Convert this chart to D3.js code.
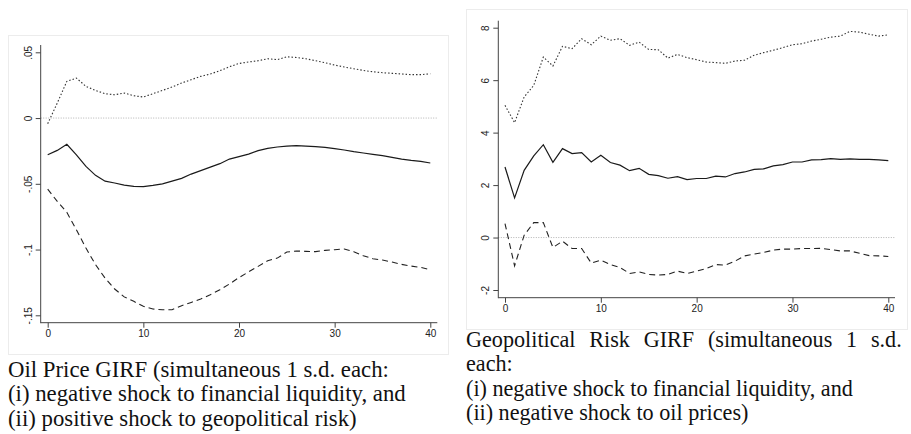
<!DOCTYPE html>
<html><head><meta charset="utf-8">
<script src="https://cdn.jsdelivr.net/npm/d3@7"></script>
<style>body{margin:0;background:#fff}svg{display:block}</style>
</head><body>
<svg id="c" width="911" height="434"></svg>
<script>
const horizons = d3.range(0, 41);
const xTicks = [0, 10, 20, 30, 40];

const oilYTicks = [-0.15, -0.1, -0.05, 0, 0.05];
const oilYTickLabels = ["-.15", "-.1", "-.05", "0", ".05"];
const oilMean = [-0.0279,-0.0246,-0.0200,-0.0280,-0.0368,-0.0436,-0.0480,-0.0494,-0.0510,-0.0520,-0.0522,-0.0512,-0.0500,-0.0480,-0.0459,-0.0426,-0.0400,-0.0373,-0.0347,-0.0312,-0.0293,-0.0274,-0.0248,-0.0230,-0.0220,-0.0213,-0.0210,-0.0213,-0.0218,-0.0223,-0.0233,-0.0243,-0.0256,-0.0266,-0.0276,-0.0286,-0.0299,-0.0312,-0.0322,-0.0330,-0.0342];
const oilUpper = [-0.0043,0.0114,0.0279,0.0304,0.0241,0.0210,0.0185,0.0177,0.0190,0.0170,0.0160,0.0185,0.0210,0.0236,0.0266,0.0292,0.0317,0.0335,0.0360,0.0390,0.0415,0.0426,0.0436,0.0451,0.0444,0.0466,0.0461,0.0451,0.0436,0.0421,0.0403,0.0388,0.0375,0.0362,0.0352,0.0345,0.0340,0.0335,0.0330,0.0330,0.0337];
const oilLower = [-0.0540,-0.0634,-0.0717,-0.0850,-0.0989,-0.1115,-0.1217,-0.1300,-0.1360,-0.1394,-0.1432,-0.1452,-0.1458,-0.1458,-0.1427,-0.1402,-0.1376,-0.1343,-0.1305,-0.1262,-0.1213,-0.1170,-0.1128,-0.1085,-0.1065,-0.1019,-0.1011,-0.1014,-0.1016,-0.1006,-0.1001,-0.0996,-0.1016,-0.1047,-0.1070,-0.1080,-0.1095,-0.1113,-0.1126,-0.1136,-0.1153];

const gprYTicks = [-2, 0, 2, 4, 6, 8];
const gprYTickLabels = ["-2", "0", "2", "4", "6", "8"];
const gprMean = [2.69,1.51,2.56,3.11,3.54,2.87,3.39,3.20,3.24,2.88,3.14,2.86,2.76,2.55,2.64,2.41,2.36,2.26,2.32,2.21,2.25,2.25,2.34,2.31,2.44,2.50,2.60,2.62,2.73,2.78,2.88,2.88,2.96,2.97,3.01,2.98,3.00,2.98,2.98,2.96,2.93];
const gprUpper = [5.04,4.38,5.36,5.80,6.88,6.54,7.29,7.20,7.58,7.35,7.68,7.52,7.58,7.33,7.45,7.17,7.16,6.84,6.98,6.86,6.78,6.69,6.67,6.64,6.73,6.76,6.95,7.05,7.14,7.24,7.35,7.39,7.49,7.56,7.64,7.68,7.86,7.83,7.75,7.68,7.73];
const gprLower = [0.53,-1.08,0.09,0.57,0.57,-0.38,-0.14,-0.42,-0.42,-0.97,-0.86,-1.03,-1.14,-1.37,-1.31,-1.41,-1.43,-1.41,-1.28,-1.37,-1.28,-1.18,-1.03,-1.05,-0.90,-0.70,-0.63,-0.57,-0.48,-0.44,-0.44,-0.42,-0.42,-0.41,-0.46,-0.51,-0.51,-0.60,-0.69,-0.70,-0.72];

const oilCaption = ["Oil Price GIRF (simultaneous 1 s.d. each:", "(i) negative shock to financial liquidity, and", "(ii) positive shock to geopolitical risk)"];
const gprCaption = ["Geopolitical Risk GIRF (simultaneous 1 s.d.", "each:", "(i) negative shock to financial liquidity, and", "(ii) negative shock to oil prices)"];

const svg = d3.select("#c");
const serif = "Liberation Serif, 'Times New Roman', serif";

function panel(cfg) {
  const g = svg.append("g");
  g.append("rect").attr("x", cfg.frame[0]+0.5).attr("y", cfg.frame[1]+0.5)
    .attr("width", cfg.frame[2]-cfg.frame[0]).attr("height", cfg.frame[3]-cfg.frame[1])
    .attr("fill", "#fff").attr("stroke", "#ececec").attr("stroke-width", 1);
  const x = d3.scaleLinear().domain([0, 40]).range(cfg.xr);
  const y = d3.scaleLinear().domain(cfg.yd).range(cfg.yr);
  const [pl, pt, pr, pb] = cfg.plot;
  g.append("line").attr("x1", pl).attr("x2", pr).attr("y1", y(0)).attr("y2", y(0))
    .attr("stroke", "#aaa").attr("stroke-width", 0.9).attr("stroke-dasharray", "1,1.5");
  const ya = g.append("g").attr("transform", `translate(${pl},0)`)
    .call(d3.axisLeft(y).tickValues(cfg.yTicks).tickFormat((d, i) => cfg.yLabels[i]).tickSize(5).tickPadding(4));
  ya.select(".domain").remove();
  ya.selectAll(".tick line").attr("stroke", "#444");
  ya.selectAll(".tick text").attr("transform", "rotate(-90)")
    .attr("x", 0).attr("y", -9).attr("dy", 0).attr("text-anchor", "middle")
    .attr("font-family", "Liberation Sans, Arial, sans-serif").attr("font-size", 10).attr("fill", "#222");
  const xa = g.append("g").attr("transform", `translate(0,${pb})`)
    .call(d3.axisBottom(x).tickValues(xTicks).tickSize(5).tickPadding(2));
  xa.select(".domain").remove();
  xa.selectAll(".tick line").attr("stroke", "#444");
  xa.selectAll(".tick text").attr("font-family", "Liberation Sans, Arial, sans-serif")
    .attr("font-size", 10).attr("fill", "#222");
  g.append("line").attr("x1", pl).attr("x2", pl).attr("y1", pt).attr("y2", pb + 0.5).attr("stroke", "#444");
  g.append("line").attr("x1", pl).attr("x2", pr).attr("y1", pb).attr("y2", pb).attr("stroke", "#444");

  const line = d3.line().x((d, i) => x(horizons[i])).y(d => y(d));
  g.append("path").datum(cfg.upper).attr("d", line).attr("fill", "none")
    .attr("stroke", "#333").attr("stroke-width", 1.1).attr("stroke-dasharray", "1.5,2");
  g.append("path").datum(cfg.lower).attr("d", line).attr("fill", "none")
    .attr("stroke", "#222").attr("stroke-width", 1.1).attr("stroke-dasharray", "6,4");
  g.append("path").datum(cfg.mean).attr("d", line).attr("fill", "none")
    .attr("stroke", "#1a1a1a").attr("stroke-width", 1.2);

  // caption: size font so the reference line reaches its measured width
  const texts = cfg.caption.map((t, i) => g.append("text").attr("x", cfg.capX).attr("y", cfg.capY + i * 24.6)
      .attr("font-family", serif).attr("font-size", 20).attr("fill", "#111").text(t));
  const natural = texts[cfg.refLine].node().getComputedTextLength();
  const fs = 20 * cfg.refWidth / natural;
  texts.forEach(t => t.attr("font-size", fs));
  if (cfg.justify != null) {
    const t = texts[cfg.justify];
    const w = t.node().getComputedTextLength();
    const spaces = (cfg.caption[cfg.justify].match(/ /g) || []).length;
    t.attr("word-spacing", (cfg.justifyWidth - w) / spaces);
  }
}

panel({
  frame: [8, 35, 448, 354],
  xr: [47.7, 430.3], yd: [-0.15, 0.05], yr: [315.3, 52.3],
  plot: [40.7, 45, 437.3, 322.7],
  yTicks: oilYTicks, yLabels: oilYTickLabels,
  mean: oilMean, upper: oilUpper, lower: oilLower,
  caption: oilCaption, capX: 8, capY: 376.5, refLine: 1, refWidth: 398
});
panel({
  frame: [466, 9, 907, 329],
  xr: [505, 888.3], yd: [-2, 8], yr: [290, 27.7],
  plot: [498.3, 20.7, 895, 297.7],
  yTicks: gprYTicks, yLabels: gprYTickLabels,
  mean: gprMean, upper: gprUpper, lower: gprLower,
  caption: gprCaption, capX: 466, capY: 346.5, refLine: 2, refWidth: 387,
  justify: 0, justifyWidth: 435.7
});
</script>
</body></html>
